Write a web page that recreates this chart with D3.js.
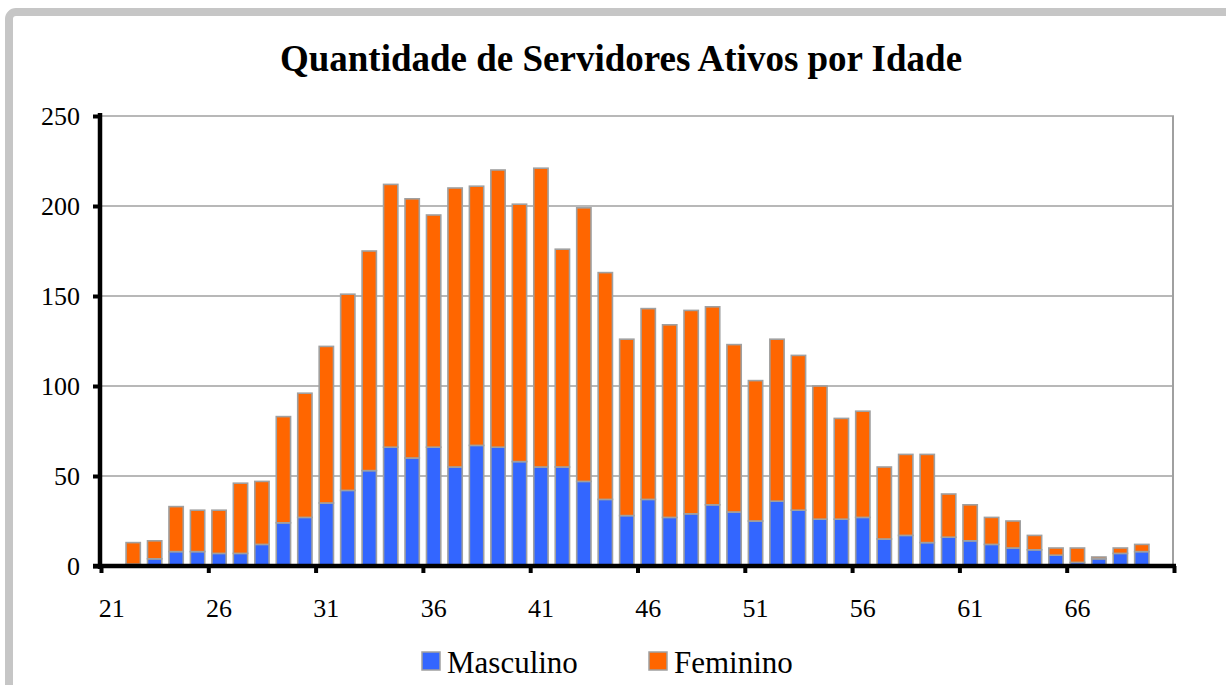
<!DOCTYPE html>
<html lang="pt">
  <head>
    <meta charset="utf-8" />
    <title>Quantidade de Servidores Ativos por Idade</title>
    <script src="https://cdn.jsdelivr.net/npm/d3@7"></script>
    <style>
      body {
        margin: 0;
        background: #fff;
      }

      svg {
        display: block;
        font-family: "Liberation Serif", "Times New Roman", serif;
      }

      .axis path {
        display: none;
      }

      .grid line {
        stroke: #a0a0a0;
        stroke-width: 1.5;
      }

      rect.bar {
        stroke: #a0a0a0;
        stroke-width: 1.6;
      }
    </style>
  </head>

  <body>
    <svg id="chart"></svg>

    <script>
      // ages on the category axis (21 and 70 have no bars)
      const axisAges = [
        21, 22, 23, 24, 25, 26, 27, 28, 29, 30, 31, 32, 33, 34, 35, 36, 37, 38, 39, 40,
        41, 42, 43, 44, 45, 46, 47, 48, 49, 50, 51, 52, 53, 54, 55, 56, 57, 58, 59, 60,
        61, 62, 63, 64, 65, 66, 67, 68, 69, 70
      ];
      const barAges = [
        22, 23, 24, 25, 26, 27, 28, 29, 30, 31, 32, 33, 34, 35, 36, 37, 38, 39, 40, 41,
        42, 43, 44, 45, 46, 47, 48, 49, 50, 51, 52, 53, 54, 55, 56, 57, 58, 59, 60, 61,
        62, 63, 64, 65, 66, 67, 68, 69
      ];
      const masculino = [
        1, 4, 8, 8, 7, 7, 12, 24, 27, 35, 42, 53, 66, 60, 66, 55, 67, 66, 58, 55,
        55, 47, 37, 28, 37, 27, 29, 34, 30, 25, 36, 31, 26, 26, 27, 15, 17, 13, 16, 14,
        12, 10, 9, 6, 2, 4, 7, 8
      ];
      const feminino = [
        12, 10, 25, 23, 24, 39, 35, 59, 69, 87, 109, 122, 146, 144, 129, 155, 144, 154, 143, 166,
        121, 152, 126, 98, 106, 107, 113, 110, 93, 78, 90, 86, 74, 56, 59, 40, 45, 49, 24, 20,
        15, 15, 8, 4, 8, 1, 3, 4
      ];
      const labelAges = [21, 26, 31, 36, 41, 46, 51, 56, 61, 66];
      const tickEdges = [21, 26, 31, 36, 41, 46, 51, 56, 61, 66, 71];
      const yTicks = [0, 50, 100, 150, 200, 250];

      const seriesNames = ["Masculino", "Feminino"];
      const colors = ["#3366ff", "#ff6600"];

      const W = 1226;
      const H = 685;
      const plot = { left: 101, right: 1174, top: 116, bottom: 566 };

      const svg = d3.select("#chart").attr("width", W).attr("height", H);

      // outer frame (only top and left edges visible)
      svg
        .append("rect")
        .attr("x", 9)
        .attr("y", 12)
        .attr("width", W + 40)
        .attr("height", H + 40)
        .attr("rx", 7)
        .attr("fill", "#fff")
        .attr("stroke", "#c6c6c6")
        .attr("stroke-width", 8);

      svg
        .append("text")
        .attr("x", 621)
        .attr("y", 71)
        .attr("text-anchor", "middle")
        .attr("font-size", 37)
        .attr("font-weight", "bold")
        .text("Quantidade de Servidores Ativos por Idade");

      // scales
      const xBand = d3
        .scaleBand()
        .domain(axisAges)
        .range([plot.left, plot.right])
        .paddingInner(1 / 3)
        .paddingOuter(1 / 6);
      const xSlot = d3.scaleBand().domain(axisAges).range([plot.left, plot.right]);
      const xEdge = d3
        .scaleLinear()
        .domain([axisAges[0], axisAges[axisAges.length - 1] + 1])
        .range([plot.left, plot.right]);
      const y = d3.scaleLinear().domain([0, 250]).range([plot.bottom, plot.top]);

      // gridlines
      svg
        .append("g")
        .attr("class", "grid")
        .selectAll("line")
        .data(yTicks.filter(d => d > 0))
        .join("line")
        .attr("x1", plot.left)
        .attr("x2", plot.right)
        .attr("y1", d => y(d))
        .attr("y2", d => y(d));

      // right border of plot area
      svg
        .append("line")
        .attr("x1", plot.right - 1)
        .attr("x2", plot.right - 1)
        .attr("y1", y(250))
        .attr("y2", y(0))
        .attr("stroke", "#a0a0a0")
        .attr("stroke-width", 2);

      // stacked data
      const rows = barAges.map((age, i) => ({
        age,
        Masculino: masculino[i],
        Feminino: feminino[i]
      }));
      const stacked = d3.stack().keys(seriesNames)(rows);

      svg
        .append("g")
        .selectAll("g")
        .data(stacked)
        .join("g")
        .attr("fill", (d, i) => colors[i])
        .selectAll("rect")
        .data(d => d)
        .join("rect")
        .attr("class", "bar")
        .attr("x", d => xBand(d.data.age))
        .attr("width", xBand.bandwidth())
        .attr("y", d => y(d[1]))
        .attr("height", d => y(d[0]) - y(d[1]));

      // y axis
      const gy = svg
        .append("g")
        .attr("class", "axis")
        .attr("transform", `translate(${plot.left - 1},0)`)
        .call(d3.axisLeft(y).tickValues(yTicks).tickSize(7).tickPadding(13));
      gy.selectAll(".tick line").attr("stroke", "#000").attr("stroke-width", 4);
      gy.selectAll(".tick text").attr("font-size", 26).attr("font-family", "Liberation Serif").attr("fill", "#000");
      gy.append("line")
        .attr("y1", y(250) - 3)
        .attr("y2", y(0) + 3)
        .attr("stroke", "#000")
        .attr("stroke-width", 4.5);

      // x axis: tick marks on category edges, labels on category centres
      const gxTicks = svg
        .append("g")
        .attr("class", "axis")
        .attr("transform", `translate(0,${plot.bottom})`)
        .call(d3.axisBottom(xEdge).tickValues(tickEdges).tickSize(7).tickFormat(""));
      gxTicks.selectAll(".tick line").attr("stroke", "#000").attr("stroke-width", 4);
      gxTicks
        .append("line")
        .attr("x1", plot.left - 8)
        .attr("x2", plot.right + 2)
        .attr("stroke", "#000")
        .attr("stroke-width", 4.5);

      const gxLabels = svg
        .append("g")
        .attr("class", "axis")
        .attr("transform", `translate(0,${plot.bottom})`)
        .call(d3.axisBottom(xSlot).tickValues(labelAges).tickSize(0).tickPadding(33));
      gxLabels.selectAll(".tick text").attr("font-size", 26).attr("font-family", "Liberation Serif").attr("fill", "#000");

      // legend
      const legendX = [422, 649];
      const legend = svg
        .append("g")
        .selectAll("g")
        .data(seriesNames)
        .join("g")
        .attr("transform", (d, i) => `translate(${legendX[i]},652)`);
      legend
        .append("rect")
        .attr("width", 18)
        .attr("height", 18)
        .attr("fill", (d, i) => colors[i])
        .attr("stroke", "#a0a0a0")
        .attr("stroke-width", 1.5);
      legend
        .append("text")
        .attr("x", 25)
        .attr("y", 21)
        .attr("font-size", 31)
        .text(d => d);
    </script>
  </body>
</html>
